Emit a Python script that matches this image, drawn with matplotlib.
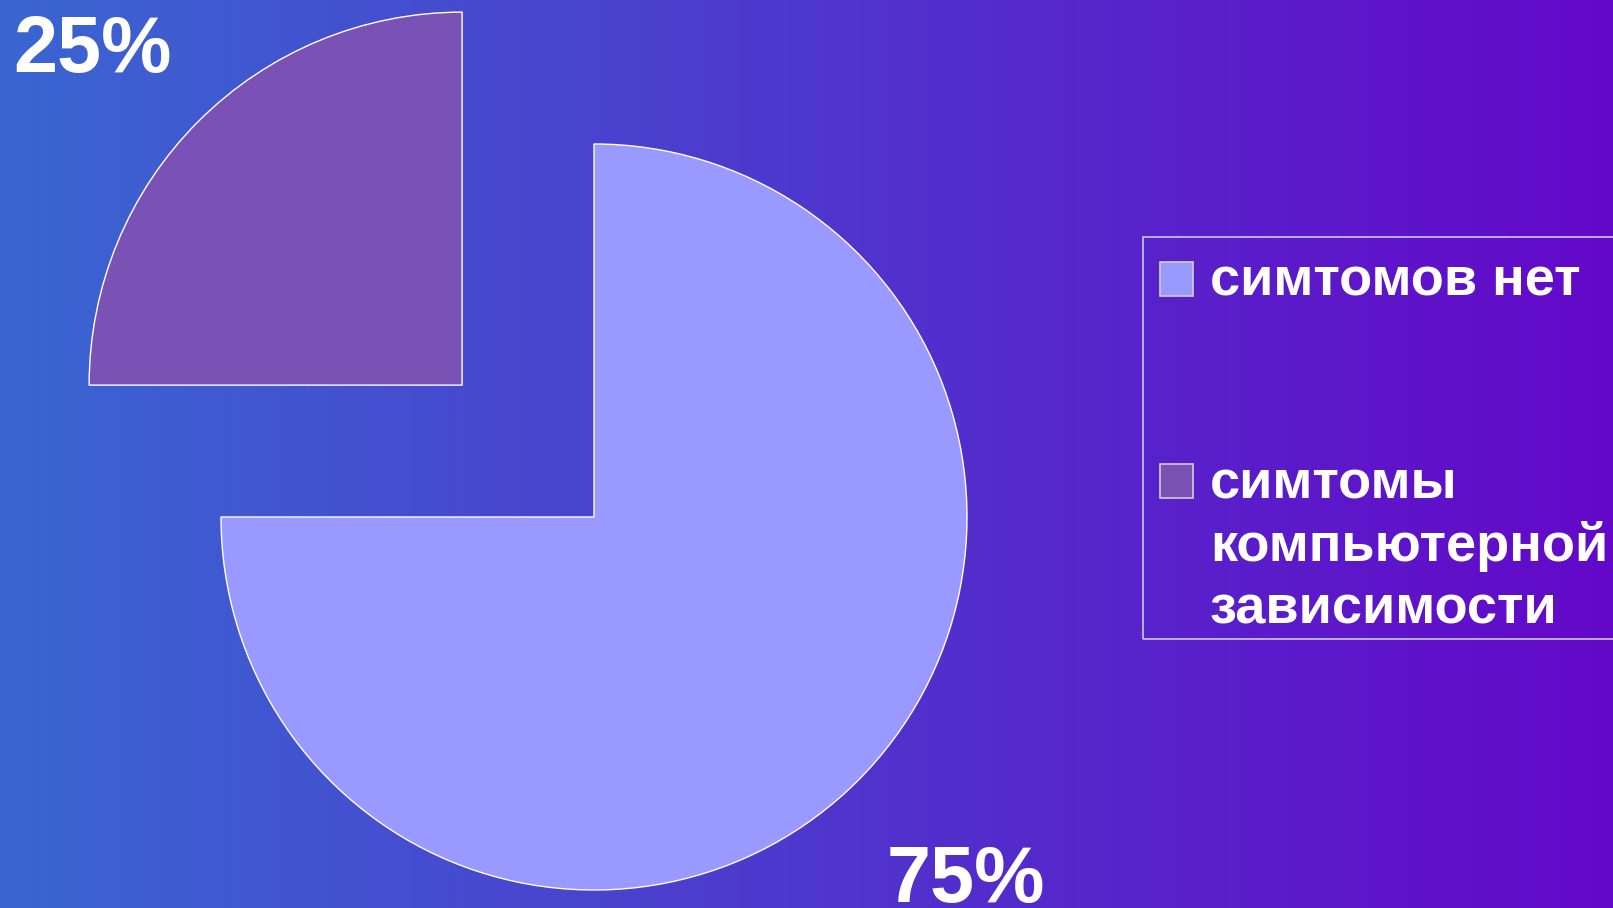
import numpy as np
import matplotlib.pyplot as plt
from matplotlib.patches import Rectangle

plt.rcParams['font.family'] = ['Liberation Sans', 'DejaVu Sans']

labels = ["симтомов нет", "симтомы\nкомпьютерной\nзависимости"]
shares = [75, 25]
colors = ["#9999ff", "#7a52b6"]
explode = [0, 0.5]

W, H = 1613, 908
fig = plt.figure(figsize=(W / 100, H / 100), dpi=100)

# background gradient, blue on the left to violet on the right
bg = fig.add_axes([0, 0, 1, 1], zorder=0)
left = np.array([58, 102, 210]) / 255
right = np.array([100, 8, 200]) / 255
t = np.linspace(0, 1, 400)[None, :, None]
grad = left * (1 - t) + right * t
bg.imshow(grad, aspect='auto', extent=[0, 1, 0, 1])
bg.axis('off')

# pie axes: 1 data unit = 373 px, centre at (594, 517) px from top-left
ax = fig.add_axes([0, 0, 1, 1], zorder=1)
ax.patch.set_alpha(0)
R = 373.0
cx, cy = 594.0, 517.0
wedges, texts, autotexts = ax.pie(
    shares, colors=colors, explode=explode, startangle=90, counterclock=False,
    autopct='%1.0f%%', pctdistance=1.37,
    wedgeprops=dict(edgecolor='white', linewidth=1.0),
    textprops=dict(color='white', fontsize=57, fontweight='bold'))
ax.set_xlim(-cx / R, (W - cx) / R)
ax.set_ylim(-(H - cy) / R, cy / R)
ax.set_aspect('auto')
ax.axis('off')

# small nudges of the percent labels (pixels: right, down)
nudges = [(11, 3), (-8, 28)]
for txt, (dx, dy) in zip(autotexts, nudges):
    x, y = txt.get_position()
    txt.set_position((x + dx / R, y - dy / R))

# legend drawn by hand to match the spaced-out layout
fig.patches.append(Rectangle((1143 / W, 1 - 639 / H), (W + 10 - 1143) / W, (639 - 237) / H,
                             transform=fig.transFigure, fill=False,
                             edgecolor='#c8c8f0', linewidth=1.2, zorder=3))
entry_tops = [262, 464]
line_gap = 63
for lab, col, top in zip(labels, colors, entry_tops):
    fig.patches.append(Rectangle((1160 / W, 1 - (top + 34) / H), 33 / W, 34 / H,
                                 transform=fig.transFigure, facecolor=col,
                                 edgecolor='#d0d0d0', linewidth=1.2, zorder=3))
    for i, line in enumerate(lab.split('\n')):
        base = top + 34 + i * line_gap
        fig.text(1210 / W, 1 - base / H, line, color='white', fontsize=39,
                 fontweight='bold', va='baseline', ha='left', zorder=4)

fig.savefig('out.png', dpi=100)
